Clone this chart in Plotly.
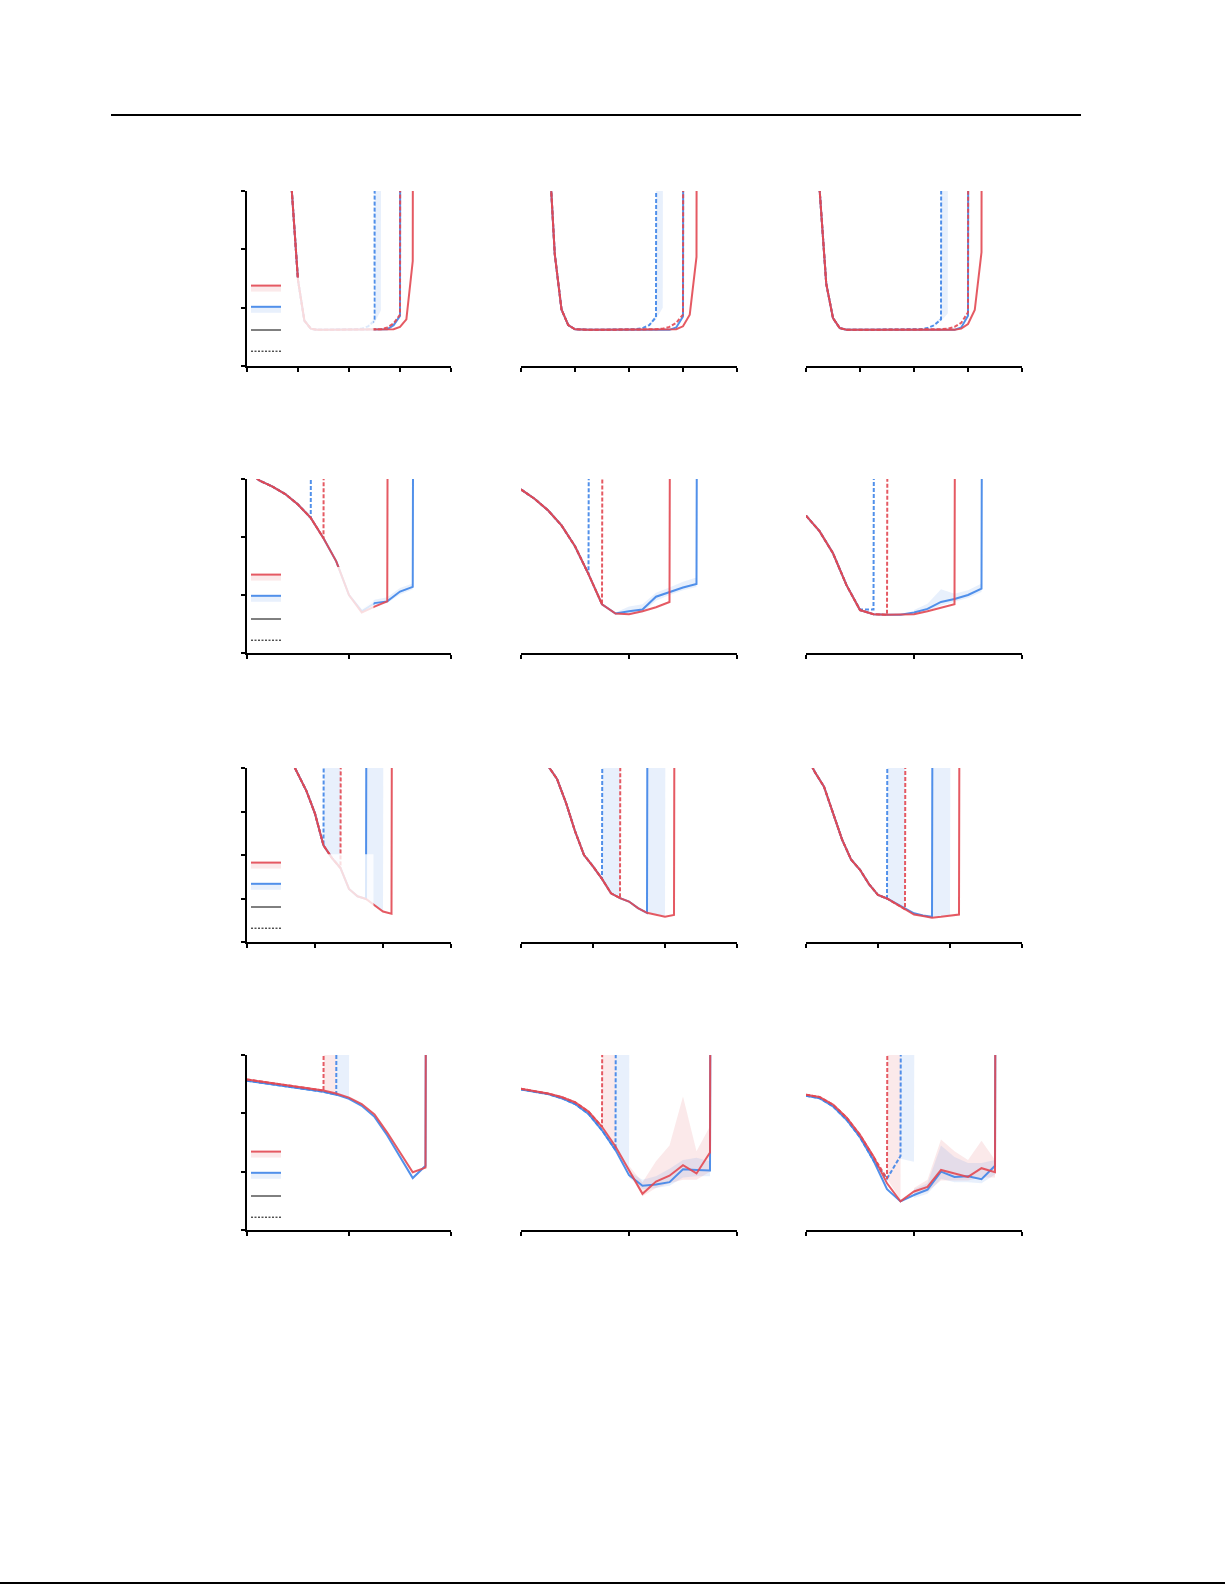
import plotly.graph_objects as go

D = 100.0  # run diverged: loss far above the top of the axis

# ---- row 1 -------------------------------------------------------------
R1_X = [0.125, 0.25, 0.375, 0.5, 0.625, 0.75, 0.875, 1.0, 1.125, 1.25, 1.375, 1.5, 1.625, 1.75,
        1.875, 2.0, 2.125, 2.25, 2.375, 2.5, 2.625, 2.75, 2.875, 3.0, 3.125, 3.25, 3.375]

R1C1_RED = [None, None, None, None, None, 5.5, 3.05, 1.47, 0.78, 0.64, 0.62, 0.62, 0.62, 0.62,
            0.62, 0.62, 0.62, 0.62, 0.62, 0.62, 0.62, 0.62, 0.63, 0.67, 0.80, 1.80, D]
R1C1_BLUE = [None, None, None, None, None, 5.5, 3.05, 1.47, 0.78, 0.64, 0.62, 0.62, 0.62, 0.62,
             0.62, 0.62, 0.62, 0.62, 0.62, 0.62, 0.62, 0.63, 0.70, 0.86, D, None, None]
R1C1_RED_DASH = [None, None, None, None, None, 5.5, 3.05, 1.47, 0.78, 0.64, 0.62, 0.62, 0.62, 0.62,
                 0.62, 0.62, 0.62, 0.62, 0.62, 0.62, 0.63, 0.66, 0.73, 0.88, D, None, None]
R1C1_BLUE_DASH = [None, None, None, None, None, 5.5, 3.05, 1.47, 0.78, 0.64, 0.62, 0.62, 0.62, 0.62,
                  0.62, 0.62, 0.63, 0.64, 0.68, 0.78, D, None, None, None, None, None, None]
R1C1_BD_X = [2.375, 2.5, 2.625, 2.75]
R1C1_BD_LO = [0.66, 0.74, 0.95, D]
R1C1_BD_HI = [0.70, 0.85, D, D]

R1C2_RED = [None, None, None, 4.0, 1.92, 0.97, 0.70, 0.63, 0.62, 0.62, 0.62, 0.62, 0.62, 0.62,
            0.62, 0.62, 0.62, 0.62, 0.62, 0.62, 0.62, 0.62, 0.63, 0.68, 0.88, 1.87, D]
R1C2_BLUE = [None, None, None, 4.0, 1.92, 0.97, 0.70, 0.63, 0.62, 0.62, 0.62, 0.62, 0.62, 0.62,
             0.62, 0.62, 0.62, 0.62, 0.62, 0.62, 0.62, 0.62, 0.66, 0.85, D, None, None]
R1C2_RED_DASH = [None, None, None, 4.0, 1.92, 0.97, 0.70, 0.63, 0.62, 0.62, 0.62, 0.62, 0.62, 0.62,
                 0.62, 0.62, 0.62, 0.62, 0.62, 0.63, 0.64, 0.67, 0.74, 0.88, D, None, None]
R1C2_BLUE_DASH = [None, None, None, 4.0, 1.92, 0.97, 0.70, 0.63, 0.62, 0.62, 0.62, 0.62, 0.62, 0.62,
                  0.62, 0.62, 0.63, 0.65, 0.70, 0.84, D, None, None, None, None, None, None]
R1C2_BD_X = [2.375, 2.5, 2.625, 2.75]
R1C2_BD_LO = [0.68, 0.80, 1.00, D]
R1C2_BD_HI = [0.72, 0.88, D, D]

R1C3_RED = [5.0, 3.05, 1.41, 0.82, 0.65, 0.62, 0.62, 0.62, 0.62, 0.62, 0.62, 0.62, 0.62, 0.62,
            0.62, 0.62, 0.62, 0.62, 0.62, 0.62, 0.62, 0.62, 0.64, 0.72, 0.96, 1.95, D]
R1C3_BLUE = [5.0, 3.05, 1.41, 0.82, 0.65, 0.62, 0.62, 0.62, 0.62, 0.62, 0.62, 0.62, 0.62, 0.62,
             0.62, 0.62, 0.62, 0.62, 0.62, 0.62, 0.62, 0.62, 0.66, 0.86, D, None, None]
R1C3_RED_DASH = [5.0, 3.05, 1.41, 0.82, 0.65, 0.62, 0.62, 0.62, 0.62, 0.62, 0.62, 0.62, 0.62, 0.62,
                 0.62, 0.62, 0.62, 0.62, 0.62, 0.63, 0.64, 0.67, 0.74, 0.92, D, None, None]
R1C3_BLUE_DASH = [5.0, 3.05, 1.41, 0.82, 0.65, 0.62, 0.62, 0.62, 0.62, 0.62, 0.62, 0.62, 0.62, 0.62,
                  0.62, 0.62, 0.63, 0.65, 0.70, 0.80, D, None, None, None, None, None, None]
R1C3_BD_X = [2.375, 2.5, 2.625, 2.75]
R1C3_BD_LO = [0.68, 0.77, 0.90, D]
R1C3_BD_HI = [0.72, 0.84, D, D]

# ---- row 2 -------------------------------------------------------------
R2_X = [0.0, 0.125, 0.25, 0.375, 0.5, 0.625, 0.75, 0.875, 1.0, 1.125, 1.25, 1.375, 1.5, 1.625, 1.75]

R2C1_RED = [3.15, 2.97, 2.87, 2.74, 2.56, 2.33, 1.98, 1.58, 1.00, 0.70, 0.80, 0.89, D, None, None]
R2C1_BLUE = [3.15, 2.97, 2.87, 2.74, 2.56, 2.33, 1.98, 1.58, 1.00, 0.72, 0.86, 0.89, 1.06, 1.14, D]
R2C1_RED_DASH = [3.15, 2.97, 2.87, 2.74, 2.56, 2.33, 1.98, D, None, None, None, None, None, None, None]
R2C1_BLUE_DASH = [3.15, 2.97, 2.87, 2.74, 2.56, 2.33, D, None, None, None, None, None, None, None, None]
R2C1_BS_X = [1.0, 1.125, 1.25, 1.375, 1.5, 1.625, 1.75]
R2C1_BS_LO = [0.98, 0.69, 0.82, 0.86, 1.01, 1.10, D]
R2C1_BS_HI = [1.02, 0.76, 0.92, 0.96, 1.12, 1.20, D]

R2C2_RED = [2.82, 2.66, 2.46, 2.20, 1.84, 1.36, 0.84, 0.68, 0.67, 0.72, 0.79, 0.88, D, None, None]
R2C2_BLUE = [2.82, 2.66, 2.46, 2.20, 1.84, 1.36, 0.84, 0.68, 0.72, 0.75, 0.97, 1.05, 1.13, 1.19, D]
R2C2_RED_DASH = [2.82, 2.66, 2.46, 2.20, 1.84, 1.36, 0.84, D, None, None, None, None, None, None, None]
R2C2_BLUE_DASH = [2.82, 2.66, 2.46, 2.20, 1.84, 1.36, D, None, None, None, None, None, None, None, None]
R2C2_BS_X = [0.875, 1.0, 1.125, 1.25, 1.375, 1.5, 1.625, 1.75]
R2C2_BS_LO = [0.66, 0.66, 0.70, 0.90, 1.00, 1.08, 1.14, D]
R2C2_BS_HI = [0.70, 0.80, 0.84, 1.04, 1.13, 1.23, 1.30, D]

R2C3_RED = [2.37, 2.10, 1.72, 1.17, 0.74, 0.67, 0.66, 0.66, 0.67, 0.72, 0.78, 0.84, D, None, None]
R2C3_BLUE = [2.37, 2.10, 1.72, 1.17, 0.74, 0.67, 0.66, 0.66, 0.70, 0.76, 0.88, 0.93, 1.00, 1.11, D]
R2C3_RED_DASH = [2.37, 2.10, 1.72, 1.17, 0.74, 0.67, 0.66, D, None, None, None, None, None, None, None]
R2C3_BLUE_DASH = [2.37, 2.10, 1.72, 1.17, 0.75, 0.75, D, None, None, None, None, None, None, None, None]
R2C3_BS_X = [1.0, 1.125, 1.25, 1.375, 1.5, 1.625, 1.75]
R2C3_BS_LO = [0.68, 0.72, 0.82, 0.88, 0.95, 1.05, D]
R2C3_BS_HI = [0.74, 0.85, 1.10, 1.02, 1.08, 1.20, D]

# ---- row 3 -------------------------------------------------------------
R3_X = [0.0, 0.125, 0.25, 0.375, 0.5, 0.625, 0.75, 0.875, 1.0, 1.125, 1.25, 1.375, 1.5, 1.625,
        1.75, 1.875, 2.0, 2.125, 2.25]

R3C1_RED = [None, None, None, None, None, 4.25, 3.85, 3.47, 2.95, 2.22, 1.93, 1.70, 1.22, 1.05,
            0.99, 0.84, 0.70, 0.65, D]
R3C1_BLUE = [None, None, None, None, None, 4.25, 3.85, 3.47, 2.95, 2.22, 1.93, 1.70, 1.22, 1.05,
             0.99, D, None, None, None]
R3C1_RED_DASH = [None, None, None, None, None, 4.25, 3.85, 3.47, 2.95, 2.22, 1.93, 1.70, D, None,
                 None, None, None, None, None]
R3C1_BLUE_DASH = [None, None, None, None, None, 4.25, 3.85, 3.47, 2.95, 2.22, D, None, None, None,
                  None, None, None, None, None]
R3C1_BD_X = [1.125, 1.25, 1.375, 1.5]
R3C1_BD_LO = [2.22, 1.93, 1.70, D]
R3C1_BD_HI = [2.22, D, D, D]
R3C1_BS_X = [1.75, 1.875, 2.0, 2.125]
R3C1_BS_LO = [0.99, 0.84, 0.70, D]
R3C1_BS_HI = [0.99, D, D, D]

R3C2_RED = [None, None, 4.6, 4.05, 3.75, 3.20, 2.55, 2.00, 1.74, 1.45, 1.12, 1.01, 0.93, 0.78,
            0.67, 0.62, 0.58, 0.62, D]
R3C2_BLUE = [None, None, 4.6, 4.05, 3.75, 3.20, 2.55, 2.00, 1.74, 1.45, 1.12, 1.01, 0.93, 0.78,
             0.67, D, None, None, None]
R3C2_RED_DASH = [None, None, 4.6, 4.05, 3.75, 3.20, 2.55, 2.00, 1.74, 1.45, 1.12, 1.01, D, None,
                 None, None, None, None, None]
R3C2_BLUE_DASH = [None, None, 4.6, 4.05, 3.75, 3.20, 2.55, 2.00, 1.74, 1.45, D, None, None, None,
                  None, None, None, None, None]
R3C2_BD_X = [1.125, 1.25, 1.375, 1.5]
R3C2_BD_LO = [1.45, 1.12, 1.01, D]
R3C2_BD_HI = [1.45, D, D, D]
R3C2_BS_X = [1.75, 1.875, 2.0, 2.125]
R3C2_BS_LO = [0.67, 0.62, 0.58, D]
R3C2_BS_HI = [0.67, D, D, D]

R3C3_RED = [4.3, 3.90, 3.57, 2.95, 2.36, 1.90, 1.66, 1.33, 1.08, 1.00, 0.88, 0.75, 0.63, 0.60,
            0.56, 0.58, 0.60, 0.63, D]
R3C3_BLUE = [4.3, 3.90, 3.57, 2.95, 2.36, 1.90, 1.66, 1.33, 1.08, 1.00, 0.89, 0.77, 0.66, 0.61,
             0.58, D, None, None, None]
R3C3_RED_DASH = [4.3, 3.90, 3.57, 2.95, 2.36, 1.90, 1.66, 1.33, 1.08, 1.00, 0.88, 0.75, D, None,
                 None, None, None, None, None]
R3C3_BLUE_DASH = [4.3, 3.90, 3.57, 2.95, 2.36, 1.90, 1.66, 1.33, 1.08, 1.00, D, None, None, None,
                  None, None, None, None, None]
R3C3_BD_X = [1.125, 1.25, 1.375, 1.5]
R3C3_BD_LO = [1.00, 0.88, 0.75, D]
R3C3_BD_HI = [1.00, D, D, D]
R3C3_BS_X = [1.75, 1.875, 2.0, 2.125]
R3C3_BS_LO = [0.58, 0.58, 0.60, D]
R3C3_BS_HI = [0.58, D, D, D]

# ---- row 4 -------------------------------------------------------------
R4_X = [0.0, 0.125, 0.25, 0.375, 0.5, 0.625, 0.75, 0.875, 1.0, 1.125, 1.25, 1.375, 1.5, 1.625,
        1.75, 1.875]

R4C1_RED = [2.58, 2.55, 2.52, 2.49, 2.46, 2.43, 2.39, 2.34, 2.27, 2.16, 1.98, 1.67, 1.33, 0.99, 1.07, D]
R4C1_BLUE = [2.56, 2.53, 2.50, 2.47, 2.44, 2.41, 2.37, 2.32, 2.25, 2.13, 1.94, 1.62, 1.26, 0.89, 1.10, D]
R4C1_RED_DASH = [2.58, 2.55, 2.52, 2.49, 2.46, 2.43, 2.39, D, None, None, None, None, None, None, None, None]
R4C1_BLUE_DASH = [2.56, 2.53, 2.50, 2.47, 2.44, 2.41, 2.37, 2.32, D, None, None, None, None, None, None, None]
R4C1_RD_X = [0.75, 0.875, 1.0]
R4C1_RD_LO = [2.39, 2.34, D]
R4C1_RD_HI = [2.39, D, D]
R4C1_BD_X = [0.875, 1.0, 1.125]
R4C1_BD_LO = [2.32, 2.25, D]
R4C1_BD_HI = [2.32, D, D]

R4C2_RED = [2.42, 2.38, 2.34, 2.28, 2.19, 2.03, 1.77, 1.43, 1.03, 0.62, 0.83, 0.93, 1.11, 0.97, 1.33, D]
R4C2_BLUE = [2.41, 2.37, 2.33, 2.26, 2.16, 1.99, 1.71, 1.37, 0.94, 0.76, 0.78, 0.82, 1.04, 1.03, 1.02, D]
R4C2_RED_DASH = [2.42, 2.38, 2.34, 2.28, 2.19, 2.03, 1.77, D, None, None, None, None, None, None, None, None]
R4C2_BLUE_DASH = [2.41, 2.37, 2.33, 2.26, 2.16, 1.99, 1.71, 1.37, D, None, None, None, None, None, None, None]
R4C2_RD_X = [0.75, 0.875, 1.0]
R4C2_RD_LO = [1.77, 1.43, D]
R4C2_RD_HI = [1.77, D, D]
R4C2_BD_X = [0.875, 1.0, 1.125]
R4C2_BD_LO = [1.37, 0.95, D]
R4C2_BD_HI = [1.37, D, D]
R4C2_RS_X = [1.0, 1.125, 1.25, 1.375, 1.5, 1.625, 1.75, 1.875]
R4C2_RS_LO = [0.98, 0.58, 0.72, 0.80, 0.86, 0.86, 1.00, D]
R4C2_RS_HI = [1.10, 0.82, 1.18, 1.45, 2.29, 1.35, 1.78, D]
R4C2_BS_X = [1.0, 1.125, 1.25, 1.375, 1.5, 1.625, 1.75, 1.875]
R4C2_BS_LO = [0.90, 0.70, 0.72, 0.76, 0.90, 0.92, 0.92, D]
R4C2_BS_HI = [1.00, 0.86, 0.92, 1.05, 1.20, 1.24, 1.18, D]

R4C3_RED = [2.32, 2.28, 2.15, 1.93, 1.63, 1.26, 0.80, 0.49, 0.66, 0.74, 1.03, 0.97, 0.91, 1.06, 0.99, D]
R4C3_BLUE = [2.30, 2.26, 2.12, 1.89, 1.59, 1.19, 0.70, 0.49, 0.60, 0.69, 1.00, 0.91, 0.92, 0.87, 1.10, D]
R4C3_RED_DASH = [2.32, 2.28, 2.15, 1.93, 1.63, 1.26, 0.88, D, None, None, None, None, None, None, None, None]
R4C3_BLUE_DASH = [2.30, 2.26, 2.12, 1.89, 1.59, 1.19, 0.88, 1.27, D, None, None, None, None, None, None, None]
R4C3_RD_X = [0.75, 0.875, 1.0]
R4C3_RD_LO = [0.88, 0.52, D]
R4C3_RD_HI = [0.88, D, D]
R4C3_BD_X = [0.875, 1.0, 1.125]
R4C3_BD_LO = [1.22, 1.17, D]
R4C3_BD_HI = [1.27, D, D]
R4C3_RS_X = [1.0, 1.125, 1.25, 1.375, 1.5, 1.625, 1.75, 1.875]
R4C3_RS_LO = [0.60, 0.66, 0.85, 0.85, 0.85, 0.90, 0.90, D]
R4C3_RS_HI = [0.72, 0.86, 1.55, 1.35, 1.20, 1.53, 1.20, D]
R4C3_BS_X = [1.0, 1.125, 1.25, 1.375, 1.5, 1.625, 1.75, 1.875]
R4C3_BS_LO = [0.55, 0.62, 0.88, 0.82, 0.82, 0.80, 0.95, D]
R4C3_BS_HI = [0.70, 0.80, 1.45, 1.25, 1.15, 1.15, 1.20, D]

# ---- styling ------------------------------------------------------------
RED = "rgba(226,72,82,0.9)"
BLUE = "rgba(62,132,232,0.9)"
RED_FILL = "rgba(226,72,82,0.12)"
BLUE_FILL = "rgba(62,132,232,0.12)"
DASH = "4px,2px"

W, H = 1225, 1585
COLS_PX = [(247, 451), (521, 737), (806, 1022)]
ROWS_PX = [(191, 366), (479, 653), (768, 942), (1055, 1230)]
X_MAX = [4, 2, 3, 2]
Y_MAX = [3, 3, 4, 3]
LEGEND_TOP_PX = [272, 561, 849, 1138]
FADE_TOP = [0.505, 0.494, 0.504, 0.494]

panels = {
    (0, 0): (R1_X, R1C1_RED, R1C1_BLUE, R1C1_RED_DASH, R1C1_BLUE_DASH,
             [(R1C1_BD_X, R1C1_BD_LO, R1C1_BD_HI, BLUE_FILL)]),
    (0, 1): (R1_X, R1C2_RED, R1C2_BLUE, R1C2_RED_DASH, R1C2_BLUE_DASH,
             [(R1C2_BD_X, R1C2_BD_LO, R1C2_BD_HI, BLUE_FILL)]),
    (0, 2): (R1_X, R1C3_RED, R1C3_BLUE, R1C3_RED_DASH, R1C3_BLUE_DASH,
             [(R1C3_BD_X, R1C3_BD_LO, R1C3_BD_HI, BLUE_FILL)]),
    (1, 0): (R2_X, R2C1_RED, R2C1_BLUE, R2C1_RED_DASH, R2C1_BLUE_DASH,
             [(R2C1_BS_X, R2C1_BS_LO, R2C1_BS_HI, BLUE_FILL)]),
    (1, 1): (R2_X, R2C2_RED, R2C2_BLUE, R2C2_RED_DASH, R2C2_BLUE_DASH,
             [(R2C2_BS_X, R2C2_BS_LO, R2C2_BS_HI, BLUE_FILL)]),
    (1, 2): (R2_X, R2C3_RED, R2C3_BLUE, R2C3_RED_DASH, R2C3_BLUE_DASH,
             [(R2C3_BS_X, R2C3_BS_LO, R2C3_BS_HI, BLUE_FILL)]),
    (2, 0): (R3_X, R3C1_RED, R3C1_BLUE, R3C1_RED_DASH, R3C1_BLUE_DASH,
             [(R3C1_BD_X, R3C1_BD_LO, R3C1_BD_HI, BLUE_FILL),
              (R3C1_BS_X, R3C1_BS_LO, R3C1_BS_HI, BLUE_FILL)]),
    (2, 1): (R3_X, R3C2_RED, R3C2_BLUE, R3C2_RED_DASH, R3C2_BLUE_DASH,
             [(R3C2_BD_X, R3C2_BD_LO, R3C2_BD_HI, BLUE_FILL),
              (R3C2_BS_X, R3C2_BS_LO, R3C2_BS_HI, BLUE_FILL)]),
    (2, 2): (R3_X, R3C3_RED, R3C3_BLUE, R3C3_RED_DASH, R3C3_BLUE_DASH,
             [(R3C3_BD_X, R3C3_BD_LO, R3C3_BD_HI, BLUE_FILL),
              (R3C3_BS_X, R3C3_BS_LO, R3C3_BS_HI, BLUE_FILL)]),
    (3, 0): (R4_X, R4C1_RED, R4C1_BLUE, R4C1_RED_DASH, R4C1_BLUE_DASH,
             [(R4C1_RD_X, R4C1_RD_LO, R4C1_RD_HI, RED_FILL),
              (R4C1_BD_X, R4C1_BD_LO, R4C1_BD_HI, BLUE_FILL)]),
    (3, 1): (R4_X, R4C2_RED, R4C2_BLUE, R4C2_RED_DASH, R4C2_BLUE_DASH,
             [(R4C2_RD_X, R4C2_RD_LO, R4C2_RD_HI, RED_FILL),
              (R4C2_BD_X, R4C2_BD_LO, R4C2_BD_HI, BLUE_FILL),
              (R4C2_RS_X, R4C2_RS_LO, R4C2_RS_HI, RED_FILL),
              (R4C2_BS_X, R4C2_BS_LO, R4C2_BS_HI, BLUE_FILL)]),
    (3, 2): (R4_X, R4C3_RED, R4C3_BLUE, R4C3_RED_DASH, R4C3_BLUE_DASH,
             [(R4C3_RD_X, R4C3_RD_LO, R4C3_RD_HI, RED_FILL),
              (R4C3_BD_X, R4C3_BD_LO, R4C3_BD_HI, BLUE_FILL),
              (R4C3_RS_X, R4C3_RS_LO, R4C3_RS_HI, RED_FILL),
              (R4C3_BS_X, R4C3_BS_LO, R4C3_BS_HI, BLUE_FILL)]),
}


def suffix(r, c):
    n = r * 3 + c + 1
    return "" if n == 1 else str(n)


fig = go.Figure()

for (r, c), (xs, red, blue, red_dash, blue_dash, bands) in panels.items():
    s = suffix(r, c)
    ax = dict(xaxis="x" + s, yaxis="y" + s, showlegend=False, hoverinfo="skip")
    # spread across seeds
    for bx, lo, hi, fillcol in bands:
        fig.add_trace(go.Scatter(x=bx, y=lo, mode="lines", line=dict(width=0), **ax))
        fig.add_trace(go.Scatter(x=bx, y=hi, mode="lines", line=dict(width=0),
                                 fill="tonexty", fillcolor=fillcol, **ax))
    # mean curves, red drawn over blue
    for ys, col, dash in [(blue_dash, BLUE, DASH), (blue, BLUE, "solid"),
                          (red_dash, RED, DASH), (red, RED, "solid")]:
        fig.add_trace(go.Scatter(x=xs, y=ys, mode="lines",
                                 line=dict(color=col, width=2, dash=dash), **ax))

# legend keys in the first panel of each row (labels left blank)
layout = {}
shapes = []
for r in range(4):
    s = suffix(r, 0)
    lg = "legend" if r == 0 else "legend%d" % (r + 1)
    keys = [(RED, RED_FILL, "solid", 2), (BLUE, BLUE_FILL, "solid", 2),
            ("black", None, "solid", 1), ("black", None, "2px,1.5px", 1)]
    for col, fillcol, dash, w in keys:
        kw = dict(fill="toself", fillcolor=fillcol) if fillcol else {}
        fig.add_trace(go.Scatter(x=[None], y=[None], mode="lines", name=" ",
                                 line=dict(color=col, width=w, dash=dash),
                                 xaxis="x" + s, yaxis="y" + s, legend=lg,
                                 showlegend=True, **kw))
    layout[lg] = dict(x=246 / W, y=1 - LEGEND_TOP_PX[r] / H, xanchor="left", yanchor="top",
                      bgcolor="rgba(0,0,0,0)", borderwidth=0, itemwidth=30, traceorder="normal",
                      font=dict(family="DejaVu Sans", size=14, color="black"),
                      tracegroupgap=0, itemclick=False, itemdoubleclick=False)
    # translucent legend frame that washes out the curves behind it
    shapes.append(dict(type="rect", xref="x%s domain" % s, yref="y%s domain" % s,
                       x0=0.005, x1=0.62, y0=0.025, y1=FADE_TOP[r],
                       fillcolor="rgba(255,255,255,0.8)", line=dict(width=0), layer="above"))

for r in range(4):
    for c in range(3):
        s = suffix(r, c)
        x0, x1 = COLS_PX[c]
        y0, y1 = ROWS_PX[r]
        layout["xaxis" + s] = dict(domain=[x0 / W, x1 / W], range=[0, X_MAX[r]], anchor="y" + s,
                                   tick0=0, dtick=1, ticks="outside", ticklen=4, tickwidth=2,
                                   tickcolor="black", showline=True, linewidth=2, linecolor="black",
                                   showticklabels=False, showgrid=False, zeroline=False)
        layout["yaxis" + s] = dict(domain=[1 - y1 / H, 1 - y0 / H], range=[0, Y_MAX[r]], anchor="x" + s,
                                   tick0=0, dtick=1, ticks="outside" if c == 0 else "", ticklen=4,
                                   tickwidth=2, tickcolor="black", showline=(c == 0), linewidth=2,
                                   linecolor="black", showticklabels=False, showgrid=False,
                                   zeroline=False)

# page rules above and below the figure
shapes.append(dict(type="line", xref="paper", yref="paper", x0=111 / W, x1=1081 / W,
                   y0=1 - 115 / H, y1=1 - 115 / H, line=dict(color="black", width=2)))
shapes.append(dict(type="line", xref="paper", yref="paper", x0=0, x1=1,
                   y0=1 - 1583 / H, y1=1 - 1583 / H, line=dict(color="black", width=2)))

fig.update_layout(**layout)
fig.update_layout(
    width=W, height=H,
    margin=dict(l=0, r=0, t=0, b=0),
    paper_bgcolor="white", plot_bgcolor="white",
    shapes=shapes,
    showlegend=True,
)

# drop the browser's default body margin so the page is not shifted
fig.write_html("out.html", config={"displayModeBar": False},
               post_script="document.body.style.margin = '0';")
